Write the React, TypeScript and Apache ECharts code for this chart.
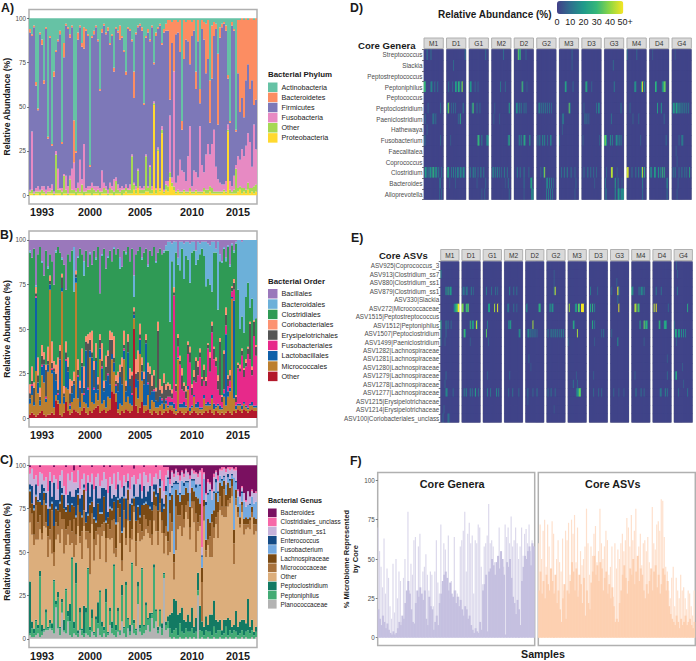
import React, { useEffect, useRef } from "react";
import * as echarts from "echarts";

const years: Record<number, string> = { 6: "1993", 30: "2000", 55: "2005", 81: "2010", 104: "2015" };
const yTicks = [0, 25, 50, 75, 100];

// Panel A, percentages per sample
const phylumNames = ["Actinobacteria", "Bacteroidetes", "Firmicutes", "Fusobacteria", "Other", "Proteobacteria"];
const phylumColors = ["#66c2a5", "#fc8d62", "#7d78b8", "#e78ac3", "#a6d854", "#ffd92f"];
const actinoA = [6,9,4,36,51,8,12,35,5,67,10,71,30,18,12,7,70,14,3,5,9,4,60,75,8,4,14,5,6,9,83,10,7,4,12,40,6,3,8,5,14,9,28,5,7,4,10,18,30,5,6,12,30,8,4,3,5,48,10,6,12,4,25,8,5,3,14,6,3,1,1,2,1,1,2,1,58,1,2,1,1,2,1,30,1,40,1,2,3,1,35,4,2,3,20,5,3,2,4,32,58,2,6,63,1,1,0,1,0,1,0,0,1,0];
const bactA = [2,1,1,2,1,1,3,2,1,1,1,1,3,1,1,2,1,8,1,1,2,1,25,1,4,1,2,12,1,1,1,1,2,1,1,1,2,1,1,2,1,1,2,1,1,8,1,1,2,1,1,1,15,1,1,1,2,1,1,2,1,1,1,2,1,1,1,2,4,6,45,12,30,8,6,18,5,22,10,12,25,8,6,10,12,8,5,10,28,22,24,30,8,3,40,6,2,1,3,2,1,2,1,1,30,52,45,55,35,25,40,35,48,46];
const fusoA = [1,33,1,2,3,1,2,3,2,3,2,3,1,2,12,1,2,1,8,4,2,12,16,2,3,18,3,27,2,2,2,3,2,3,2,2,12,3,2,2,3,2,7,2,3,2,2,1,2,1,3,1,1,2,1,2,1,2,1,1,1,2,1,1,1,1,2,1,2,3,32,3,67,5,8,18,12,10,6,20,35,3,12,10,8,37,15,9,20,26,18,25,35,14,7,5,4,3,6,3,5,3,8,2,18,15,22,18,25,28,26,12,35,20];
const otherA = [1,2,1,1,1,2,2,1,1,1,1,2,1,22,2,2,2,10,2,1,8,2,2,2,3,1,5,2,1,2,2,4,2,1,2,2,1,3,2,1,3,2,2,7,2,1,3,2,2,2,2,21,3,2,10,2,2,2,20,2,15,2,1,2,1,1,2,1,3,3,3,2,2,1,1,1,1,1,1,1,2,1,1,1,1,1,1,2,2,2,3,3,1,1,1,1,1,1,1,1,2,1,2,14,2,2,3,2,2,4,3,2,4,4];
const proteoA = [1,1,0,1,1,0,1,1,0,1,1,1,0,1,1,1,0,1,1,0,1,1,1,0,1,1,1,0,1,1,1,0,1,1,1,0,1,1,1,0,1,1,0,1,1,1,0,1,2,1,1,1,3,1,4,1,1,1,2,2,1,1,51,1,25,2,35,1,3,2,10,5,3,1,2,1,1,2,1,1,2,1,1,2,1,1,1,2,1,1,2,1,1,1,1,1,1,2,1,36,1,1,1,1,2,3,1,2,1,3,1,2,1,2];

// Panel B
const orderNames = ["Bacillales", "Bacteroidales", "Clostridiales", "Coriobacteriales", "Erysipelotrichales", "Fusobacteriales", "Lactobacillales", "Micrococcales", "Other"];
const orderColors = ["#9a78bb", "#6cb0d9", "#2f9a55", "#fc9272", "#555555", "#e7298a", "#0f5fa8", "#bc7f2f", "#b2182b"];
const bacillB = [6,10,5,30,8,4,12,20,6,15,8,12,25,6,4,7,10,14,28,8,12,6,4,18,9,5,8,12,6,15,7,14,6,10,4,30,8,5,16,9,6,12,4,8,5,10,15,6,7,4,12,5,20,8,6,4,10,7,5,14,6,9,4,12,7,5,8,6,3,1,1,2,1,1,10,1,1,2,1,1,2,1,1,6,1,2,1,1,1,2,3,1,1,5,1,8,12,4,10,3,14,2,6,1,0,0,1,0,0,0,0,0,0,0];
const bactB = [1,0,0,1,0,0,1,0,0,1,0,0,0,1,0,0,1,0,0,0,0,0,25,0,1,0,0,8,0,0,1,0,0,1,0,0,1,0,0,1,0,0,1,0,0,6,0,0,1,0,0,0,12,0,0,0,1,0,0,1,0,0,0,1,0,0,0,1,3,5,45,10,28,6,4,16,4,20,8,10,22,6,5,8,10,6,4,8,25,20,22,28,6,2,38,4,1,1,2,1,1,1,1,1,28,50,42,52,32,24,38,33,46,44];
const corioB = [5,8,3,4,10,5,6,4,3,8,3,12,4,5,18,3,2,4,6,5,8,3,5,2,6,4,8,12,3,5,4,12,5,8,4,3,10,4,6,3,5,4,12,3,6,4,5,8,3,4,6,2,2,8,12,6,4,4,3,5,4,6,3,2,5,6,4,5,3,2,3,2,3,1,2,3,4,2,3,2,3,2,4,2,3,2,1,3,2,1,3,2,1,2,3,2,1,2,4,2,3,1,2,1,1,2,1,1,2,1,1,2,1,1];
const erysB = [3,2,8,2,4,2,5,3,15,2,2,3,2,4,2,5,6,2,4,3,6,4,2,2,3,8,2,3,5,25,6,3,10,2,3,5,3,2,8,10,25,8,3,2,5,3,10,2,3,6,4,10,2,3,5,2,4,3,2,6,12,3,8,5,40,4,3,12,5,6,4,3,2,3,5,2,8,3,4,5,6,4,2,12,5,3,4,6,3,2,8,4,6,3,5,30,3,20,6,4,3,2,4,3,2,2,3,4,2,3,20,3,8,5];
const fusoB = [0,1,0,1,0,0,1,0,1,0,0,1,0,0,1,0,0,0,1,0,1,0,0,0,1,0,0,1,0,1,0,0,1,0,0,0,1,0,0,1,0,0,0,1,0,0,0,1,0,0,0,1,0,0,0,1,0,0,0,1,0,0,1,0,0,0,1,0,1,5,3,2,66,10,6,22,8,6,4,18,25,6,8,12,15,28,12,8,10,30,18,35,25,22,8,6,3,2,5,3,4,3,6,2,20,18,28,14,22,30,25,15,40,28];
const lactoB = [3,5,2,48,6,3,5,10,2,4,3,2,20,8,3,25,2,4,15,10,2,5,8,3,12,3,15,4,30,10,4,25,8,18,6,6,20,5,15,12,8,3,5,4,10,15,12,5,6,25,10,6,2,5,10,8,5,12,35,6,8,5,6,4,3,5,2,3,2,1,2,2,3,1,1,2,2,3,1,2,2,1,1,2,3,1,1,2,1,2,1,2,3,1,1,2,1,2,40,3,2,1,55,2,1,1,2,1,1,1,1,2,1,1];
const microB = [6,10,5,30,12,4,20,18,8,24,70,22,4,3,2,6,70,5,8,12,3,6,6,75,8,4,10,3,5,4,30,6,3,8,3,30,4,5,3,8,6,18,12,5,2,6,3,30,4,8,5,3,6,10,8,30,12,4,3,8,2,8,5,3,4,3,6,2,4,3,2,3,3,2,30,2,3,4,3,12,2,3,8,3,4,2,3,8,3,4,2,8,3,2,4,3,2,10,4,8,12,65,7,2,2,3,2,3,2,2,3,2,2,2];
const otherB = [2,3,2,1,2,3,4,2,1,2,2,3,2,10,8,2,1,3,9,4,2,3,5,4,3,2,4,6,3,2,4,3,5,6,7,3,4,5,3,4,5,15,14,9,3,2,4,3,5,4,3,4,50,7,3,6,9,3,4,5,3,2,4,3,2,4,2,3,4,3,5,4,3,2,3,4,3,2,3,4,2,3,4,3,2,3,2,3,4,3,5,3,2,4,3,2,3,2,3,4,3,2,4,3,5,4,3,5,4,3,4,5,4,4];

// Panel C
const genusNames = ["Bacteroides", "Clostridiales_unclass", "Clostridium_ss1", "Enterococcus", "Fusobacterium", "Lachnospiraceae", "Micrococcaceae", "Other", "Peptoclostridium", "Peptoniphilus", "Planococcaceae"];
const genusColors = ["#7a1060", "#f768a8", "#c6b2da", "#134a85", "#74a9e0", "#7a4a14", "#a8733f", "#dcae7c", "#137a63", "#43ab75", "#b3b3b3"];
const bacterC = [1,0,0,0,0,1,0,0,0,0,0,0,1,0,0,0,0,0,1,0,0,0,3,0,0,1,0,0,0,0,0,1,0,0,0,0,0,1,0,0,1,0,0,0,0,0,1,0,0,0,0,0,2,0,0,0,0,1,0,0,0,0,0,1,0,0,0,1,1,1,8,3,5,2,4,6,3,5,2,4,6,2,3,4,5,3,2,4,16,8,10,14,5,3,6,2,1,1,2,1,1,1,2,1,14,18,12,16,20,15,18,14,16,15];
const unclassC = [4,2,8,6,12,3,5,9,7,15,4,10,5,8,14,6,3,12,16,5,9,4,7,10,3,13,8,5,15,6,10,4,14,7,5,12,9,3,8,16,6,11,5,14,4,9,12,6,10,5,14,7,4,11,8,5,15,3,6,10,5,12,7,4,8,3,9,14,5,2,3,1,2,1,2,3,1,2,1,1,2,1,2,1,2,1,50,1,1,2,1,1,2,1,3,1,2,1,2,1,2,1,1,2,1,0,1,0,1,0,0,1,0,1];
const clostC = [6,10,15,5,8,12,6,4,9,10,5,8,4,12,6,3,10,5,7,12,6,14,8,4,10,5,9,6,12,4,8,6,10,5,14,7,4,9,6,11,5,8,12,4,7,10,5,6,9,4,8,12,5,7,10,6,4,8,12,5,7,9,4,6,8,5,10,7,6,4,5,8,3,6,4,7,5,3,6,4,8,5,3,6,4,7,5,3,4,6,3,5,8,4,6,3,5,4,7,3,5,3,4,6,3,4,2,5,3,8,4,3,6,5];
const enteroC = [3,10,2,6,1,4,12,2,6,10,15,3,25,4,6,12,3,8,2,5,12,4,6,15,3,8,12,2,6,18,4,10,6,20,3,8,14,5,18,3,12,6,4,15,8,3,20,6,12,4,10,3,7,14,5,18,4,10,3,8,12,5,3,6,10,4,8,2,3,1,2,1,1,2,1,1,0,2,1,1,0,1,1,2,0,1,1,0,2,1,1,0,1,2,1,0,1,1,0,2,1,1,0,1,0,0,1,0,0,0,1,0,0,0];
const fusoC = [1,0,1,1,0,1,0,1,1,0,1,1,0,1,0,1,1,0,1,1,0,1,0,1,1,0,1,1,0,1,1,0,1,1,0,1,1,0,1,0,1,1,0,1,1,0,1,1,0,1,0,1,1,0,1,1,0,1,1,0,1,0,1,1,0,1,0,1,2,30,2,4,40,3,6,4,8,5,3,6,8,4,6,5,8,10,7,12,20,14,18,8,10,6,5,4,3,2,6,3,4,2,30,4,6,8,5,10,6,8,7,6,8,10];
const lachnoC = [10,6,14,5,12,8,16,4,10,6,12,4,15,8,9,5,14,6,10,12,5,15,7,10,6,14,8,12,5,9,16,7,12,5,14,8,6,15,9,4,12,6,10,14,5,8,16,7,11,6,10,14,5,12,8,4,15,6,9,12,7,14,8,6,12,9,5,14,18,6,8,16,5,10,12,8,6,14,10,5,12,8,6,10,14,7,9,4,6,12,8,5,10,14,6,8,12,5,7,10,6,4,8,5,3,4,2,3,4,3,2,3,4,3];
const microC = [8,12,6,20,10,8,4,15,3,12,6,25,8,10,5,18,6,20,9,5,14,7,22,6,12,4,16,9,5,10,24,6,12,8,4,18,7,5,14,8,6,10,20,5,8,15,6,10,4,12,8,6,3,14,7,10,5,12,6,4,10,6,9,14,8,5,7,12,6,8,22,5,10,25,8,6,18,5,4,10,7,4,12,22,5,6,25,8,4,3,12,20,6,4,15,8,5,16,6,4,3,6,12,4,3,2,4,6,3,2,5,3,6,4];
const peptoclC = [30,4,3,1,2,3,4,1,2,1,2,3,1,2,3,1,2,6,1,3,10,1,4,12,2,3,1,16,3,1,2,5,1,2,12,1,3,2,8,1,2,4,1,3,2,1,6,1,2,1,4,1,2,1,3,2,1,1,2,1,3,1,2,1,2,1,3,1,2,3,8,12,18,16,12,6,14,8,4,10,6,12,4,8,10,14,6,5,8,4,10,12,15,8,5,6,3,8,4,10,6,4,3,12,5,7,6,9,5,18,4,6,2,3];
const peptonC = [1,5,2,8,3,35,2,1,10,1,3,1,30,2,18,4,6,1,25,3,8,45,3,30,2,10,3,2,12,38,4,8,1,10,3,25,6,2,20,1,8,3,40,4,12,2,15,3,30,5,2,35,6,3,10,2,38,4,14,3,8,2,35,6,2,9,4,2,3,4,5,3,4,6,2,8,4,3,5,4,3,6,2,4,3,5,4,2,5,3,4,2,6,3,5,4,2,3,6,2,4,3,5,3,2,3,4,2,3,5,3,4,2,3];
const planoC = [2,1,1,2,3,1,2,4,5,5,6,5,3,18,6,2,15,4,3,10,2,1,3,2,1,5,2,1,3,2,1,4,2,1,6,2,1,3,1,2,8,3,2,1,4,2,10,3,1,6,2,8,3,2,20,4,2,3,5,8,4,12,6,10,3,7,2,35,5,6,1,0,1,0,0,1,0,0,1,0,1,0,1,0,25,0,1,0,0,1,0,0,1,0,0,1,0,0,1,0,1,0,0,1,0,0,1,0,1,0,0,1,0,1];

// Panels D and E: cells that stand out, as [row, column, percent]
const facetNames = ["M1", "D1", "G1", "M2", "D2", "G2", "M3", "D3", "G3", "M4", "D4", "G4"];
const generaRows = ["Streptococcus", "Slackia", "Peptostreptococcus", "Peptoniphilus", "Peptococcus", "Peptoclostridium", "Paeniclostridium", "Hathewaya", "Fusobacterium", "Faecalitalea", "Coprococcus", "Clostridium", "Bacteroides", "Alloprevotella"];
const asvRows = ["ASV925|Coprococcus_3", "ASV913|Clostridium_ss7", "ASV880|Clostridium_ss1", "ASV879|Clostridium_ss1", "ASV330|Slackia", "ASV272|Micrococcaceae", "ASV1515|Peptostreptococcus", "ASV1512|Peptoniphilus", "ASV1507|Peptoclostridium", "ASV1499|Paeniclostridium", "ASV1282|Lachnospiraceae", "ASV1281|Lachnospiraceae", "ASV1280|Lachnospiraceae", "ASV1279|Lachnospiraceae", "ASV1278|Lachnospiraceae", "ASV1277|Lachnospiraceae", "ASV1215|Erysipelotrichaceae", "ASV1214|Erysipelotrichaceae", "ASV100|Coriobacteriales_unclass"];
const heatBackground = 1;
const genM1 = [[0,3,12],[0,7,10],[3,0,30],[3,1,28],[3,7,16],[3,8,14],[3,11,12],[3,14,10],[5,4,7],[5,17,10],[6,1,8],[6,9,12],[6,10,10],[6,12,10],[8,0,7],[8,1,6],[8,17,8],[11,1,22],[11,2,18],[11,4,14],[11,6,20],[11,7,18],[11,9,28],[11,10,24],[11,12,22],[11,13,15],[11,15,12],[11,18,10],[12,16,10],[12,17,10],[13,16,8],[13,18,8],[7,3,6]];
const genD1 = [[1,7,9],[3,2,10],[3,9,22],[3,10,18],[3,12,28],[3,13,22],[3,16,40],[3,15,14],[5,2,38],[5,1,20],[5,5,8],[5,7,9],[5,9,8],[5,17,12],[6,14,24],[6,12,8],[8,4,6],[11,1,24],[11,2,20],[11,5,12],[11,7,14],[11,9,12],[11,11,14],[11,12,12],[11,14,16],[11,15,12],[11,17,18],[11,18,14],[0,19,8],[3,6,8],[12,3,5],[12,9,6]];
const genG1 = [[3,1,20],[3,2,14],[3,6,8],[3,9,7],[0,17,10],[5,4,32],[5,3,14],[5,8,10],[5,11,8],[8,9,30],[8,10,28],[8,13,14],[8,18,14],[8,19,18],[11,1,12],[11,4,16],[11,6,14],[11,9,10],[11,12,16],[11,15,12],[12,8,6],[13,13,6],[12,17,8],[13,16,8]];
const genM2 = [[0,12,10],[3,9,12],[3,14,8],[5,18,22],[5,3,6],[6,8,6],[6,2,6],[8,18,25],[8,17,12],[11,1,14],[11,2,12],[11,4,14],[11,6,16],[11,8,10],[11,10,8],[11,13,12],[11,16,10],[12,17,10],[13,18,8],[12,14,5]];
const genD2 = [[0,4,35],[0,6,30],[0,5,15],[0,12,8],[3,8,32],[3,9,10],[3,13,6],[5,2,16],[5,3,14],[5,5,12],[5,7,12],[5,10,10],[5,12,10],[8,5,14],[8,7,16],[8,10,28],[8,11,18],[8,16,22],[11,3,12],[11,6,10],[11,10,12],[12,10,10],[12,17,22],[12,18,24],[13,18,20],[13,10,6],[13,19,12],[11,15,8]];
const genG2 = [[5,2,14],[5,3,12],[5,5,13],[5,7,12],[5,9,12],[5,11,10],[5,13,10],[5,15,8],[8,1,10],[8,3,14],[8,6,18],[8,8,16],[8,11,10],[8,14,14],[8,15,8],[11,8,40],[11,7,15],[11,4,7],[12,10,14],[12,11,16],[12,13,14],[12,15,12],[13,10,14],[13,12,14],[13,14,12],[13,16,10],[12,17,8]];
const genM3 = [[0,13,8],[1,13,6],[3,6,24],[3,7,15],[3,14,8],[5,10,35],[5,11,12],[6,3,10],[6,4,12],[7,3,6],[11,2,10],[11,5,12],[11,8,14],[11,12,10],[11,16,8],[8,0,6],[12,17,7],[13,16,6]];
const genD3 = [[3,4,28],[3,5,20],[3,10,8],[5,15,10],[5,17,14],[5,18,10],[5,2,7],[6,3,12],[6,5,10],[6,7,8],[11,2,9],[11,6,12],[11,9,10],[11,12,9],[11,15,8],[8,1,6],[8,18,7],[12,13,6]];
const genG3 = [[1,9,9],[3,10,12],[5,17,10],[6,7,10],[8,0,30],[8,1,36],[8,2,20],[8,6,16],[8,8,14],[8,12,18],[8,13,14],[8,15,16],[8,17,12],[11,7,45],[11,8,42],[11,2,8],[11,13,6],[12,1,12],[12,11,22],[12,14,14],[13,1,10],[13,2,8],[13,11,18],[13,14,22],[13,15,18],[13,17,16],[13,18,16],[13,19,16],[12,18,6]];
const genM4 = [[0,0,10],[0,10,9],[3,8,22],[3,9,16],[3,15,30],[3,16,48],[3,18,18],[5,3,7],[6,6,7],[6,12,8],[8,14,7],[11,0,45],[11,1,48],[11,15,18],[11,16,45],[11,18,25],[11,9,12],[11,12,14],[11,5,10],[12,16,14],[13,16,10]];
const genD4 = [[3,6,30],[3,7,18],[3,13,14],[3,14,20],[3,15,36],[3,16,34],[5,8,22],[5,12,18],[6,15,8],[8,17,9],[11,1,14],[11,2,16],[11,5,22],[11,6,16],[11,9,20],[11,11,14],[11,13,30],[11,15,26],[12,18,20],[0,3,6],[13,18,10]];
const genG4 = [[5,1,18],[5,2,22],[5,4,24],[5,5,20],[5,7,22],[5,9,16],[5,11,14],[5,13,14],[5,15,12],[5,17,12],[8,10,16],[8,11,10],[8,7,8],[11,1,10],[11,3,12],[11,7,10],[11,10,12],[11,13,10],[11,15,9],[11,18,24],[9,4,6],[10,5,6],[12,6,6],[13,5,6],[0,3,5]];
const asvM1 = [[1,0,14],[3,5,20],[3,7,26],[3,9,22],[3,10,18],[5,13,12],[5,14,20],[5,15,30],[5,16,32],[5,17,50],[7,0,22],[7,5,14],[7,7,10],[7,10,8],[8,0,10],[8,5,8],[9,0,8],[9,4,6],[13,5,8],[14,4,7],[15,5,16],[15,6,14],[15,12,8],[17,3,7],[18,2,8],[18,7,12],[18,8,8]];
const asvD1 = [[3,1,12],[3,2,10],[3,4,12],[3,5,10],[3,9,12],[3,11,8],[5,0,40],[5,1,34],[5,4,32],[5,5,24],[5,6,35],[7,8,28],[7,10,22],[7,11,20],[7,14,45],[7,15,14],[8,2,32],[8,3,20],[9,8,6],[15,2,12],[15,4,14],[15,8,12],[15,10,10],[15,13,22],[15,16,10]];
const asvG1 = [[3,3,12],[3,8,10],[3,12,10],[3,14,8],[5,5,20],[5,6,22],[5,11,42],[5,14,48],[8,3,34],[9,5,6],[13,4,6],[15,4,12],[15,7,10],[15,13,16],[15,15,12],[7,4,12]];
const asvM2 = [[3,5,14],[3,9,10],[3,12,10],[5,3,10],[5,4,12],[5,9,10],[5,12,8],[7,4,14],[7,5,12],[7,6,22],[8,15,22],[8,14,8],[13,5,8],[15,4,8],[15,8,10],[15,14,8]];
const asvD2 = [[5,1,20],[5,13,26],[5,14,28],[7,7,42],[8,2,14],[8,3,16],[8,5,14],[8,7,12],[8,9,12],[8,11,8],[11,3,7],[15,2,10],[15,7,8],[15,11,10],[16,2,6],[12,5,5]];
const asvG2 = [[3,8,45],[3,7,10],[5,3,20],[5,5,22],[5,6,10],[8,1,10],[8,4,14],[8,6,12],[8,8,14],[8,10,12],[8,12,10],[8,14,14],[8,16,12],[15,1,8],[15,4,10],[15,8,8],[17,7,5],[1,7,6],[2,7,6]];
const asvM3 = [[5,1,42],[5,7,18],[5,8,22],[5,10,36],[5,11,30],[5,13,50],[5,14,50],[5,15,48],[7,5,26],[7,6,12],[8,9,42],[14,5,10],[14,9,8],[15,9,16],[15,10,24],[15,11,36],[15,12,32],[15,8,10],[13,8,6],[9,0,6]];
const asvD3 = [[3,1,12],[3,8,8],[5,1,22],[5,3,28],[5,5,14],[7,3,24],[7,5,12],[8,12,8],[8,14,10],[13,4,6],[15,4,8],[15,9,8],[15,12,8],[9,5,6]];
const asvG3 = [[3,7,50],[3,8,14],[5,8,48],[4,7,10],[2,6,8],[9,7,18],[8,1,7],[15,3,8],[15,8,6],[15,13,6],[3,1,8]];
const asvM4 = [[3,0,22],[3,1,14],[3,7,12],[3,9,14],[3,10,18],[3,12,14],[5,3,45],[5,4,40],[5,6,34],[5,7,28],[7,8,22],[7,12,36],[7,14,30],[7,15,20],[7,13,12],[9,12,6],[15,4,12],[15,9,10],[15,12,8],[13,3,6]];
const asvD4 = [[5,1,44],[5,3,48],[5,15,8],[3,3,12],[3,8,10],[7,6,30],[7,7,10],[7,11,22],[7,12,26],[7,13,18],[15,7,12],[15,8,10],[15,12,14],[15,14,10],[13,14,8],[11,14,6]];
const asvG4 = [[8,1,24],[8,2,22],[8,4,20],[8,5,18],[8,7,16],[8,9,16],[8,11,14],[5,13,24],[9,2,7],[3,3,10],[7,0,8],[13,2,26],[13,1,14],[15,4,8],[15,13,10],[0,2,7],[1,3,6],[12,8,6],[14,9,6]];
const heatTicks = [0, 10, 20, 30, 40];
const heatTopLabel = "50+";
const heatColors = ["#423f88", "#2f6f8e", "#1f9a8a", "#35b779", "#90d743", "#f6e622"];

// Panel F: dense lower part and pale spikes of the same samples
const denseGenera = [18,12,8,14,10,6,9,5,3,2,4,2,3,6,10,8,14,12,22,30,36,28,18,10,9,22,30,26,32,28,24,30,12,8,26,20,18,5,10,14,8,22,28,36,40,42,38,30,35,28,26,30,22,26,20,24,18,14,20,18,12,14,8,5,3,6,4,3,10,5,30,34,40,4,42,44,50,46,40,48,52,44,55,50,40,2,48,45,50,38,26,22,15,24,18,8,36,45,52,50,55,58,46,60,58];
const spikeGenera = [70,55,45,32,63,28,44,38,20,12,47,16,50,25,42,36,10,38,50,20,80,30,47,40,62,64,22,58,66,18,42,45,53,40,30,42,40,20,42,62,35,28,72,34,60,56,30,65,25,36,25,64,30,28,26,58,62,68,80,42,66,73,60,65,28,62,60,72,70,45,34,58,60,65,85,60,62,58,48,30,42,70,34,25,45,72,64,70,60,77,58,62,70,60,50,58,70,52,66,69,60,72,55,62,58];
const denseAsvs = [30,42,28,36,25,40,34,30,44,36,28,40,22,30,18,10,25,34,12,30,28,36,48,42,30,44,26,40,34,22,38,14,30,22,18,35,42,52,40,46,36,48,44,30,38,42,28,34,25,32,20,10,12,10,22,30,40,46,38,28,36,44,40,50,34,42,52,36,44,40,30,25,34,28,36,44,30,42,46,32,40,28,34,44,40,30,36,20,15,12,10,8,14,10,6,12,8,10,14,8,10,12,8,6,10];
const spikeAsvs = [60,72,50,68,75,45,72,58,40,74,66,30,50,62,48,42,63,30,68,62,73,40,75,66,78,48,70,30,55,46,50,58,82,60,40,58,52,66,71,48,55,82,60,50,58,68,62,40,45,58,26,60,44,56,50,60,66,55,62,76,70,58,78,62,68,82,50,58,66,46,60,62,55,64,48,40,83,60,56,72,74,68,88,87,64,45,42,30,25,38,45,20,38,30,25,40,30,32,25,18,30,28,20,14,30];

const FONT = "Liberation Sans, Arial, sans-serif";
const TEXT = "#1a1a1a";
const FRAME = "#b0b0b0";

function remainder(arrays: number[][]) {
  return arrays[0].map((_, i) => Math.max(0, 100 - arrays.reduce((s, a) => s + (a[i] || 0), 0)));
}

// relative abundances close at 100: a sample whose estimates overshoot is brought back to 100
function closeTo100(rows: Record<string, number[]>) {
  const keys = Object.keys(rows);
  const out: Record<string, number[]> = {};
  keys.forEach((k) => { out[k] = rows[k].map((v, i) => {
    const total = keys.reduce((s, q) => s + (rows[q][i] || 0), 0);
    return total > 100 ? (v * 100) / total : v;
  }); });
  return out;
}

export default function App() {
  const ref = useRef<HTMLDivElement>(null);
  useEffect(() => {
    const chart = echarts.init(ref.current!, undefined, { renderer: "svg" });
    const grids: any[] = [], xAxes: any[] = [], yAxes: any[] = [], series: any[] = [], graphic: any[] = [], legends: any[] = [];
    const heatIdx: number[] = [];

    const text = (x: number, y: number, t: string, size: number, weight = "bold", align = "left", rotation = 0) =>
      graphic.push({ type: "text", x, y, rotation, silent: true, style: { text: t, x: 0, y: 0, fill: TEXT, font: `${weight} ${size}px ${FONT}`, textAlign: align, textVerticalAlign: "middle" } });

    function stacked(g: { top: number; height: number }, names: string[], colors: string[], raw: Record<string, number[]>, title: string, leg: any) {
      const rows = closeTo100(raw);
      const idx = grids.length;
      grids.push({ left: 29, width: 228, top: g.top, height: g.height, show: true, borderColor: FRAME, borderWidth: 1.5, backgroundColor: "#fff" });
      const n = actinoA.length;
      xAxes.push({
        gridIndex: idx, type: "category", data: Array.from({ length: n }, (_, i) => years[i] || ""),
        axisLine: { show: false }, axisTick: { show: false },
        axisLabel: { interval: (i: number) => !!years[i], margin: 2.5, fontFamily: FONT, fontWeight: "bold", fontSize: 10.8, color: TEXT },
      });
      yAxes.push({
        gridIndex: idx, type: "value", min: -5, max: 105,
        axisLine: { show: false }, splitLine: { show: false },
        axisTick: { show: true, length: 2, lineStyle: { color: "#444", width: 0.7 }, customValues: yTicks },
        axisLabel: { margin: 3, fontFamily: FONT, fontSize: 6.3, color: "#4d4d4d", customValues: yTicks },
        name: "Relative Abundance (%)", nameLocation: "middle", nameGap: 18,
        nameTextStyle: { fontFamily: FONT, fontWeight: "bold", fontSize: 8.6, color: TEXT },
      });
      [...names].reverse().forEach((nm) => {
        series.push({
          type: "bar", name: nm, xAxisIndex: idx, yAxisIndex: idx, stack: "s" + idx, barWidth: 2, barCategoryGap: 0,
          data: rows[nm], itemStyle: { color: colors[names.indexOf(nm)] }, silent: true,
        });
      });
      legends.push({
        orient: "vertical", left: 268, top: leg.top, itemWidth: leg.key, itemHeight: leg.key, itemGap: leg.gap, padding: 0, selectedMode: false,
        textStyle: { fontFamily: FONT, fontSize: leg.size, color: "#222", padding: [0, 0, 0, -1] }, icon: "rect",
        data: names.map((nm, i) => ({ name: nm, icon: "rect", itemStyle: { color: colors[i] } })),
      });
      text(268, leg.titleY, title, leg.titleSize);
    }

    stacked({ top: 9.5, height: 194.5 }, phylumNames, phylumColors,
      { Actinobacteria: actinoA, Bacteroidetes: bactA, Fusobacteria: fusoA, Other: otherA, Proteobacteria: proteoA, Firmicutes: remainder([actinoA, bactA, fusoA, otherA, proteoA]) },
      "Bacterial Phylum", { top: 82.5, key: 9.5, gap: 0.63, size: 7.2, titleY: 74, titleSize: 7.9 });
    stacked({ top: 231, height: 196 }, orderNames, orderColors,
      { Bacillales: bacillB, Bacteroidales: bactB, Coriobacteriales: corioB, Erysipelotrichales: erysB, Fusobacteriales: fusoB, Lactobacillales: lactoB, Micrococcales: microB, Other: otherB, Clostridiales: remainder([bacillB, bactB, corioB, erysB, fusoB, lactoB, microB, otherB]) },
      "Bacterial Order", { top: 289, key: 9.5, gap: 0.83, size: 7.2, titleY: 281, titleSize: 7.9 });
    stacked({ top: 456.5, height: 193 }, genusNames, genusColors,
      { Bacteroides: bacterC, Clostridiales_unclass: unclassC, Clostridium_ss1: clostC, Enterococcus: enteroC, Fusobacterium: fusoC, Lachnospiraceae: lachnoC, Micrococcaceae: microC, Peptoclostridium: peptoclC, Peptoniphilus: peptonC, Planococcaceae: planoC, Other: remainder([bacterC, unclassC, clostC, enteroC, fusoC, lachnoC, microC, peptoclC, peptonC, planoC]) },
      "Bacterial Genus", { top: 508.5, key: 8.6, gap: 0.55, size: 6.4, titleY: 501, titleSize: 7.1 });

    function heat(cfg: any) {
      cfg.facets.forEach((cells: number[][], f: number) => {
        const idx = grids.length;
        const left = cfg.left + f * cfg.pitch;
        grids.push({ left, width: cfg.width, top: cfg.top, height: cfg.height, show: true, borderColor: "#b5b5b5", borderWidth: 1, backgroundColor: heatColors[0] });
        const cols = Array.from({ length: cfg.cols }, (_, i) => i);
        xAxes.push({ gridIndex: idx, type: "category", data: cols, axisLine: { show: false }, axisTick: { show: false }, axisLabel: { show: false } });
        yAxes.push({
          gridIndex: idx, type: "category", data: cfg.rows, inverse: true, axisLine: { show: false },
          axisTick: { show: f === 0, length: 2, lineStyle: { color: "#444", width: 0.7 } },
          axisLabel: { show: f === 0, interval: 0, margin: 1.5, fontFamily: FONT, fontSize: 6.3, color: "#4d4d4d" },
        });
        const lookup: Record<string, number> = {};
        cells.forEach(([r, c, v]) => { lookup[r + "_" + c] = v; });
        const data: number[][] = [];
        cfg.rows.forEach((_: string, r: number) => cols.forEach((c) => data.push([c, r, lookup[r + "_" + c] ?? heatBackground])));
        heatIdx.push(series.length);
        series.push({ type: "heatmap", name: cfg.label + " " + facetNames[f], xAxisIndex: idx, yAxisIndex: idx, data, silent: true, progressive: 0 });
        graphic.push({ type: "rect", silent: true, shape: { x: left, y: cfg.stripTop, width: cfg.width, height: cfg.stripH }, style: { fill: "#d9d9d9", stroke: "#b0b0b0", lineWidth: 1 } });
        graphic.push({ type: "text", silent: true, x: left + cfg.width / 2, y: cfg.stripTop + cfg.stripH / 2, style: { text: facetNames[f], fill: "#333", font: `6.6px ${FONT}`, textAlign: "center", textVerticalAlign: "middle" } });
      });
    }
    heat({ label: "Genera", facets: [genM1, genD1, genG1, genM2, genD2, genG2, genM3, genD3, genG3, genM4, genD4, genG4], rows: generaRows, cols: 20, left: 424, pitch: 22.55, width: 19.3, top: 49.5, height: 150, stripTop: 38, stripH: 10.5 });
    heat({ label: "ASVs", facets: [asvM1, asvD1, asvG1, asvM2, asvD2, asvG2, asvM3, asvD3, asvG3, asvM4, asvD4, asvG4], rows: asvRows, cols: 18, left: 440.7, pitch: 21.22, width: 18.3, top: 261.7, height: 160.6, stripTop: 249.5, stripH: 11 });

    // colour bar scale
    {
      const idx = grids.length;
      grids.push({ left: 557, width: 66.3, top: 1, height: 13 });
      xAxes.push({
        gridIndex: idx, type: "value", min: 0, max: 50, interval: 10, position: "bottom",
        axisLine: { show: false }, axisTick: { show: false }, splitLine: { show: false },
        axisLabel: { margin: 3, fontFamily: FONT, fontSize: 9, color: TEXT, customValues: heatTicks },
      });
      yAxes.push({ gridIndex: idx, type: "value", show: false });
      text(617.6, 22.2, heatTopLabel, 9, "normal");
    }

    // Panel F
    function sampleBars(left: number, dense: number[], spike: number[], pale: string, solid: string, first: boolean, title: string) {
      const idx = grids.length;
      grids.push({ left, width: 157, top: 472.5, height: 173, show: true, borderColor: FRAME, borderWidth: 1.5, backgroundColor: "#fff" });
      xAxes.push({ gridIndex: idx, type: "category", data: dense.map((_, i) => i), axisLine: { show: false }, axisTick: { show: false }, axisLabel: { show: false } });
      yAxes.push({
        gridIndex: idx, type: "value", min: -5, max: 105, axisLine: { show: false }, splitLine: { show: false },
        axisTick: { show: first, length: 2, lineStyle: { color: "#444", width: 0.7 }, customValues: yTicks },
        axisLabel: { show: first, margin: 3, fontFamily: FONT, fontSize: 6.3, color: "#4d4d4d", customValues: yTicks },
        ...(first ? { name: "% Microbiome Represented\nby Core", nameLocation: "middle", nameGap: 14, nameTextStyle: { fontFamily: FONT, fontWeight: "bold", fontSize: 7.5, color: TEXT, lineHeight: 9 } } : {}),
      });
      series.push({ type: "bar", name: title + " samples", xAxisIndex: idx, yAxisIndex: idx, barWidth: 1.2, barGap: "-100%", data: spike, itemStyle: { color: pale }, silent: true });
      series.push({ type: "bar", name: title + " core", xAxisIndex: idx, yAxisIndex: idx, barWidth: 2, barGap: "-100%", data: dense, itemStyle: { color: solid }, silent: true });
      text(left + 74.5, 484, title, 10.8, "bold", "center");
    }
    sampleBars(377.7, denseGenera, spikeGenera, "#dcd9ec", "#c5c0e0", true, "Core Genera");
    sampleBars(538.3, denseAsvs, spikeAsvs, "#fee0cc", "#fdd0b1", false, "Core ASVs");

    text(1, 8, "A)", 12.3); text(0, 235, "B)", 12.3); text(0, 460, "C)", 12.3);
    text(350, 8, "D)", 12.3); text(351, 238, "E)", 12.3); text(350, 461, "F)", 12.3);
    text(438, 14.7, "Relative Abundance (%)", 10);
    text(358, 45.7, "Core Genera", 9.6);
    text(379, 255.7, "Core ASVs", 9.5);
    text(543, 654, "Samples", 10.7, "bold", "center");

    chart.setOption({
      animation: false,
      backgroundColor: "#fff",
      grid: grids, xAxis: xAxes, yAxis: yAxes, series, graphic, legend: legends,
      visualMap: {
        type: "continuous", min: 0, max: 50, seriesIndex: heatIdx, orient: "horizontal", left: 557, top: 1, padding: 0,
        itemWidth: 13, itemHeight: 66.3, calculable: false, hoverLink: false, text: ["", ""], inRange: { color: heatColors },
      },
    });
    return () => chart.dispose();
  }, []);
  return <div ref={ref} style={{ position: "absolute", left: 0, top: 0, width: 696, height: 661 }} />;
}
